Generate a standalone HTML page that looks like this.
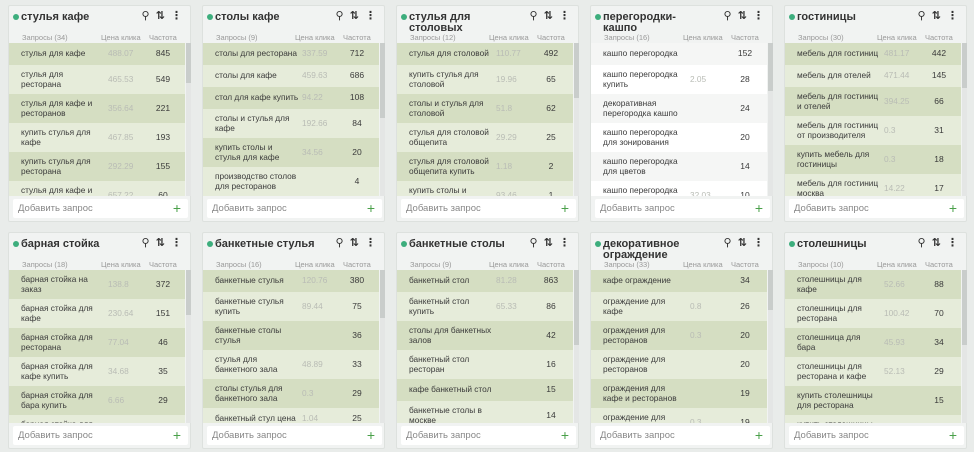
<!DOCTYPE html>
<html><head><meta charset="utf-8"><style>
*{box-sizing:border-box;margin:0;padding:0}
body{width:974px;height:452px;background:#e9ecea;font-family:"Liberation Sans","DejaVu Sans",sans-serif;position:relative;overflow:hidden}
.c{position:absolute;width:183px;height:217px;background:#f1f3f2;border:1px solid #dde1de;border-radius:2px}
.t{position:absolute;left:12px;top:6px;font-weight:bold;font-size:11px;line-height:11px;color:#333;width:120px}
.d{position:absolute;left:4px;top:8px;width:6px;height:6px;border-radius:50%;background:#3dae7d}
.ic{position:absolute;top:3px;right:8px;font-size:11px;color:#333;font-weight:bold;letter-spacing:0}
.h{position:absolute;top:27px;left:0;width:183px;font-size:7.5px;color:#999}
.h span{position:absolute}
.r{position:absolute;top:37px;left:0;width:176px;height:153px;overflow:hidden}
.sb{position:absolute;top:37px;left:177px;width:5px;height:153px;background:#e4e6e5}
.sb i{position:absolute;left:0;top:0;width:5px;height:40px;background:#c9cdcb}
.w{position:relative;display:flex;align-items:center;font-size:8.3px;line-height:9.5px;color:#3a3a3a}
.w b{font-weight:normal;position:absolute;left:12px;width:92px}
.w u{text-decoration:none;position:absolute;left:99px;color:#b9bcb5}
.w s{text-decoration:none;position:absolute;left:139px;width:30px;text-align:center;font-size:8.5px}
.a{background:#d5dec2}.l{background:#e6ecda}.x{background:#ffffff}.y{background:#f5f6f5}
.in{position:absolute;left:4px;top:193px;width:175px;height:19px;background:#fff;border-radius:2px;font-size:9.5px;color:#888;padding:4px 0 0 5px}
.in em{font-style:normal;position:absolute;right:7px;top:1px;color:#4aa04a;font-size:14px}
</style></head><body>

<div class="c" style="left:8px;top:5px"><div class="d"></div><div class="t">стулья кафе</div><div class="ic">⚲&nbsp; ⇅&nbsp; ⋮</div>
<div class="h"><span style="left:13px">Запросы (34)</span><span style="left:92px">Цена клика</span><span style="left:140px">Частота</span></div>
<div class="r">
<div class="w a" style="height:22px"><b>стулья для кафе</b><u>488.07</u><s>845</s></div>
<div class="w l" style="height:29px"><b>стулья для<br>ресторана</b><u>465.53</u><s>549</s></div>
<div class="w a" style="height:29px"><b>стулья для кафе и<br>ресторанов</b><u>356.64</u><s>221</s></div>
<div class="w l" style="height:29px"><b>купить стулья для<br>кафе</b><u>467.85</u><s>193</s></div>
<div class="w a" style="height:29px"><b>купить стулья для<br>ресторана</b><u>292.29</u><s>155</s></div>
<div class="w l" style="height:29px"><b>стулья для кафе и<br>ресторанов</b><u>657.22</u><s>60</s></div>
</div><div class="sb"><i></i></div><div class="in">Добавить запрос<em>+</em></div></div>

<div class="c" style="left:202px;top:5px"><div class="d"></div><div class="t">столы кафе</div><div class="ic">⚲&nbsp; ⇅&nbsp; ⋮</div>
<div class="h"><span style="left:13px">Запросы (9)</span><span style="left:92px">Цена клика</span><span style="left:140px">Частота</span></div>
<div class="r">
<div class="w a" style="height:22px"><b>столы для ресторана</b><u>337.59</u><s>712</s></div>
<div class="w l" style="height:22px"><b>столы для кафе</b><u>459.63</u><s>686</s></div>
<div class="w a" style="height:22px"><b>стол для кафе купить</b><u>94.22</u><s>108</s></div>
<div class="w l" style="height:29px"><b>столы и стулья для<br>кафе</b><u>192.66</u><s>84</s></div>
<div class="w a" style="height:29px"><b>купить столы и<br>стулья для кафе</b><u>34.56</u><s>20</s></div>
<div class="w l" style="height:29px"><b>производство столов<br>для ресторанов</b><u></u><s>4</s></div>
</div><div class="sb"><i style="height:75px"></i></div><div class="in">Добавить запрос<em>+</em></div></div>

<div class="c" style="left:396px;top:5px"><div class="d"></div><div class="t">стулья для<br>столовых</div><div class="ic">⚲&nbsp; ⇅&nbsp; ⋮</div>
<div class="h"><span style="left:13px">Запросы (12)</span><span style="left:92px">Цена клика</span><span style="left:140px">Частота</span></div>
<div class="r">
<div class="w a" style="height:22px"><b>стулья для столовой</b><u>110.77</u><s>492</s></div>
<div class="w l" style="height:29px"><b>купить стулья для<br>столовой</b><u>19.96</u><s>65</s></div>
<div class="w a" style="height:29px"><b>столы и стулья для<br>столовой</b><u>51.8</u><s>62</s></div>
<div class="w l" style="height:29px"><b>стулья для столовой<br>общепита</b><u>29.29</u><s>25</s></div>
<div class="w a" style="height:29px"><b>стулья для столовой<br>общепита купить</b><u>1.18</u><s>2</s></div>
<div class="w l" style="height:29px"><b>купить столы и<br>стулья</b><u>93.46</u><s>1</s></div>
</div><div class="sb"><i style="height:55px"></i></div><div class="in">Добавить запрос<em>+</em></div></div>

<div class="c" style="left:590px;top:5px"><div class="d"></div><div class="t">перегородки-<br>кашпо</div><div class="ic">⚲&nbsp; ⇅&nbsp; ⋮</div>
<div class="h"><span style="left:13px">Запросы (16)</span><span style="left:92px">Цена клика</span><span style="left:140px">Частота</span></div>
<div class="r">
<div class="w y" style="height:22px"><b>кашпо перегородка</b><u></u><s>152</s></div>
<div class="w x" style="height:29px"><b>кашпо перегородка<br>купить</b><u>2.05</u><s>28</s></div>
<div class="w y" style="height:29px"><b>декоративная<br>перегородка кашпо</b><u></u><s>24</s></div>
<div class="w x" style="height:29px"><b>кашпо перегородка<br>для зонирования</b><u></u><s>20</s></div>
<div class="w y" style="height:29px"><b>кашпо перегородка<br>для цветов</b><u></u><s>14</s></div>
<div class="w x" style="height:29px"><b>кашпо перегородка<br>в офис</b><u>32.03</u><s>10</s></div>
</div><div class="sb"><i style="height:48px"></i></div><div class="in">Добавить запрос<em>+</em></div></div>

<div class="c" style="left:784px;top:5px"><div class="d"></div><div class="t">гостиницы</div><div class="ic">⚲&nbsp; ⇅&nbsp; ⋮</div>
<div class="h"><span style="left:13px">Запросы (30)</span><span style="left:92px">Цена клика</span><span style="left:140px">Частота</span></div>
<div class="r">
<div class="w a" style="height:22px"><b>мебель для гостиниц</b><u>481.17</u><s>442</s></div>
<div class="w l" style="height:22px"><b>мебель для отелей</b><u>471.44</u><s>145</s></div>
<div class="w a" style="height:29px"><b>мебель для гостиниц<br>и отелей</b><u>394.25</u><s>66</s></div>
<div class="w l" style="height:29px"><b>мебель для гостиниц<br>от производителя</b><u>0.3</u><s>31</s></div>
<div class="w a" style="height:29px"><b>купить мебель для<br>гостиницы</b><u>0.3</u><s>18</s></div>
<div class="w l" style="height:29px"><b>мебель для гостиниц<br>москва</b><u>14.22</u><s>17</s></div>
</div><div class="sb"><i style="height:45px"></i></div><div class="in">Добавить запрос<em>+</em></div></div>

<div class="c" style="left:8px;top:232px"><div class="d"></div><div class="t">барная стойка</div><div class="ic">⚲&nbsp; ⇅&nbsp; ⋮</div>
<div class="h"><span style="left:13px">Запросы (18)</span><span style="left:92px">Цена клика</span><span style="left:140px">Частота</span></div>
<div class="r">
<div class="w a" style="height:29px"><b>барная стойка на<br>заказ</b><u>138.8</u><s>372</s></div>
<div class="w l" style="height:29px"><b>барная стойка для<br>кафе</b><u>230.64</u><s>151</s></div>
<div class="w a" style="height:29px"><b>барная стойка для<br>ресторана</b><u>77.04</u><s>46</s></div>
<div class="w l" style="height:29px"><b>барная стойка для<br>кафе купить</b><u>34.68</u><s>35</s></div>
<div class="w a" style="height:29px"><b>барная стойка для<br>бара купить</b><u>6.66</u><s>29</s></div>
<div class="w l" style="height:29px"><b>барная стойка для<br>дома</b><u>72.1</u><s>12</s></div>
</div><div class="sb"><i style="height:45px"></i></div><div class="in">Добавить запрос<em>+</em></div></div>

<div class="c" style="left:202px;top:232px"><div class="d"></div><div class="t">банкетные стулья</div><div class="ic">⚲&nbsp; ⇅&nbsp; ⋮</div>
<div class="h"><span style="left:13px">Запросы (16)</span><span style="left:92px">Цена клика</span><span style="left:140px">Частота</span></div>
<div class="r">
<div class="w a" style="height:22px"><b>банкетные стулья</b><u>120.76</u><s>380</s></div>
<div class="w l" style="height:29px"><b>банкетные стулья<br>купить</b><u>89.44</u><s>75</s></div>
<div class="w a" style="height:29px"><b>банкетные столы<br>стулья</b><u></u><s>36</s></div>
<div class="w l" style="height:29px"><b>стулья для<br>банкетного зала</b><u>48.89</u><s>33</s></div>
<div class="w a" style="height:29px"><b>столы стулья для<br>банкетного зала</b><u>0.3</u><s>29</s></div>
<div class="w l" style="height:22px"><b>банкетный стул цена</b><u>1.04</u><s>25</s></div>
</div><div class="sb"><i style="height:48px"></i></div><div class="in">Добавить запрос<em>+</em></div></div>

<div class="c" style="left:396px;top:232px"><div class="d"></div><div class="t">банкетные столы</div><div class="ic">⚲&nbsp; ⇅&nbsp; ⋮</div>
<div class="h"><span style="left:13px">Запросы (9)</span><span style="left:92px">Цена клика</span><span style="left:140px">Частота</span></div>
<div class="r">
<div class="w a" style="height:22px"><b>банкетный стол</b><u>81.28</u><s>863</s></div>
<div class="w l" style="height:29px"><b>банкетный стол<br>купить</b><u>65.33</u><s>86</s></div>
<div class="w a" style="height:29px"><b>столы для банкетных<br>залов</b><u></u><s>42</s></div>
<div class="w l" style="height:29px"><b>банкетный стол<br>ресторан</b><u></u><s>16</s></div>
<div class="w a" style="height:22px"><b>кафе банкетный стол</b><u></u><s>15</s></div>
<div class="w l" style="height:29px"><b>банкетные столы в<br>москве</b><u></u><s>14</s></div>
</div><div class="sb"><i style="height:75px"></i></div><div class="in">Добавить запрос<em>+</em></div></div>

<div class="c" style="left:590px;top:232px"><div class="d"></div><div class="t">декоративное<br>ограждение</div><div class="ic">⚲&nbsp; ⇅&nbsp; ⋮</div>
<div class="h"><span style="left:13px">Запросы (33)</span><span style="left:92px">Цена клика</span><span style="left:140px">Частота</span></div>
<div class="r">
<div class="w a" style="height:22px"><b>кафе ограждение</b><u></u><s>34</s></div>
<div class="w l" style="height:29px"><b>ограждение для<br>кафе</b><u>0.8</u><s>26</s></div>
<div class="w a" style="height:29px"><b>ограждения для<br>ресторанов</b><u>0.3</u><s>20</s></div>
<div class="w l" style="height:29px"><b>ограждение для<br>ресторанов</b><u></u><s>20</s></div>
<div class="w a" style="height:29px"><b>ограждения для<br>кафе и ресторанов</b><u></u><s>19</s></div>
<div class="w l" style="height:29px"><b>ограждение для<br>террасы</b><u>0.3</u><s>19</s></div>
</div><div class="sb"><i style="height:40px"></i></div><div class="in">Добавить запрос<em>+</em></div></div>

<div class="c" style="left:784px;top:232px"><div class="d"></div><div class="t">столешницы</div><div class="ic">⚲&nbsp; ⇅&nbsp; ⋮</div>
<div class="h"><span style="left:13px">Запросы (10)</span><span style="left:92px">Цена клика</span><span style="left:140px">Частота</span></div>
<div class="r">
<div class="w a" style="height:29px"><b>столешницы для<br>кафе</b><u>52.66</u><s>88</s></div>
<div class="w l" style="height:29px"><b>столешницы для<br>ресторана</b><u>100.42</u><s>70</s></div>
<div class="w a" style="height:29px"><b>столешница для<br>бара</b><u>45.93</u><s>34</s></div>
<div class="w l" style="height:29px"><b>столешницы для<br>ресторана и кафе</b><u>52.13</u><s>29</s></div>
<div class="w a" style="height:29px"><b>купить столешницы<br>для ресторана</b><u></u><s>15</s></div>
<div class="w l" style="height:29px"><b>купить столешницы<br>для кафе</b><u>0.3</u><s>11</s></div>
</div><div class="sb"><i style="height:75px"></i></div><div class="in">Добавить запрос<em>+</em></div></div>

</body></html>
